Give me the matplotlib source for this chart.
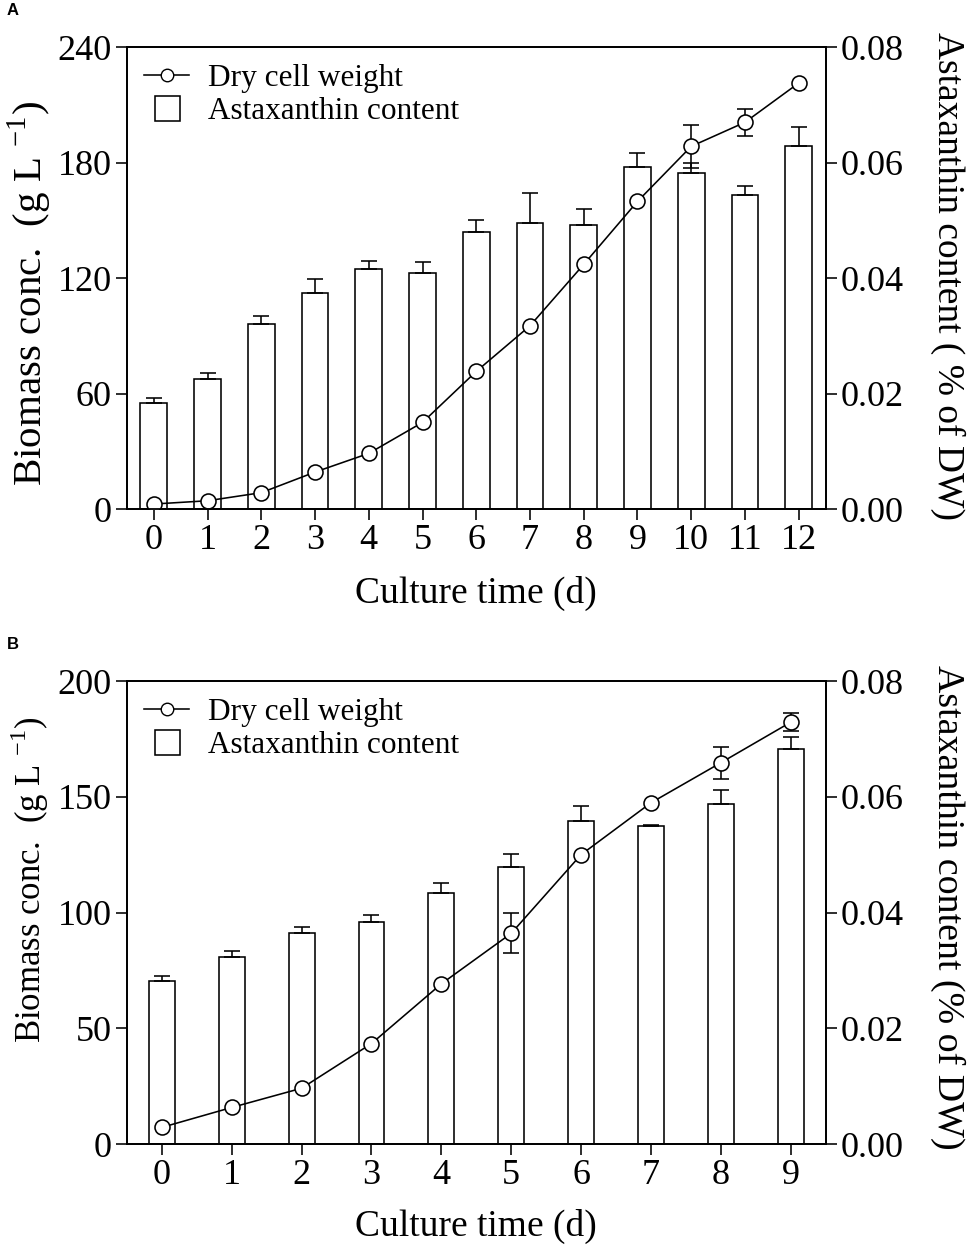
import numpy as np
import matplotlib
matplotlib.use("Agg")
import matplotlib.pyplot as plt
from matplotlib.lines import Line2D

plt.rcParams['font.family'] = ['Liberation Serif', 'DejaVu Serif']
plt.rcParams['mathtext.fontset'] = 'custom'
plt.rcParams['mathtext.rm'] = 'Liberation Serif'

# Panel A data
days_a = list(range(13))
dcw_a = [2.6, 4.3, 8.5, 19.2, 28.9, 45.0, 71.5, 95.2, 127.1, 159.8, 188.4, 200.9, 221.3]
dcw_err_a = [0, 0, 0, 0, 0, 0, 0, 0, 0, 0, 11.0, 7.0, 0]
asta_a = [0.0183, 0.0225, 0.0321, 0.0374, 0.0416, 0.0408, 0.0480, 0.0495, 0.0492,
          0.0593, 0.0582, 0.0543, 0.0628]
asta_err_a = [0.0009, 0.0010, 0.0013, 0.0025, 0.0013, 0.0020, 0.0020, 0.0053, 0.0028,
              0.0023, 0.0017, 0.0017, 0.0033]

# Panel B data
days_b = list(range(10))
dcw_b = [7.2, 15.8, 24.1, 43.4, 69.2, 91.0, 125.0, 147.4, 164.7, 182.2]
dcw_err_b = [0, 0, 0, 0, 0, 8.6, 0, 0, 6.9, 3.8]
asta_b = [0.0282, 0.0323, 0.0364, 0.0384, 0.0434, 0.0478, 0.0559, 0.0550, 0.0587, 0.0682]
asta_err_b = [0.0009, 0.0011, 0.0011, 0.0012, 0.0017, 0.0024, 0.0025, 0.0001, 0.0024, 0.0022]

TICK_FS = 26
LABEL_FS = 27
LEG_FS = 22.5
LW = 1.15
W, H = 969, 1251

fig = plt.figure(figsize=(W / 100, H / 100), dpi=100)


def px(x, y):
    return x / W, 1 - y / H


def panel(rect, days, dcw, dcw_err, asta, asta_err, ymax, yticks, bar_w, rlabel,
          letter, letter_y, xlab_y, left_lab, right_lab):
    ax = fig.add_axes(rect)
    ax2 = ax.twinx()
    ax2.set_zorder(1)
    ax.set_zorder(2)
    ax.patch.set_visible(False)

    ax2.bar(days, asta, width=bar_w, color='white', edgecolor='black', linewidth=LW)
    ax2.errorbar(days, asta, yerr=[np.zeros(len(asta)), asta_err], fmt='none',
                 ecolor='black', elinewidth=LW, capsize=5.5, capthick=LW)

    # only points that carry an error bar
    idx = [i for i, e in enumerate(dcw_err) if e > 0]
    ax.errorbar([days[i] for i in idx], [dcw[i] for i in idx],
                yerr=[dcw_err[i] for i in idx], fmt='none', ecolor='black',
                elinewidth=LW, capsize=5.5, capthick=LW)
    ax.plot(days, dcw, '-o', color='black', linewidth=LW, markersize=10.8,
            markerfacecolor='white', markeredgecolor='black', markeredgewidth=LW)

    ax.set_xlim(-0.5, len(days) - 0.5)
    ax.set_ylim(0, ymax)
    ax.set_yticks(yticks)
    ax2.set_ylim(0, 0.08)
    ax2.set_yticks([0.0, 0.02, 0.04, 0.06, 0.08])
    ax2.set_yticklabels(['0.00', '0.02', '0.04', '0.06', '0.08'])
    ax.set_xticks(days)

    for a in (ax, ax2):
        a.tick_params(direction='out', length=8, width=LW, labelsize=TICK_FS, pad=3)
        for s in a.spines.values():
            s.set_linewidth(1.3)

    fig.text(*px(476, xlab_y), 'Culture time (d)', fontsize=LABEL_FS,
             ha='center', va='center')
    ly, lfs = left_lab
    fig.text(*px(30, ly), 'Biomass conc.  (g L $^{\\mathregular{-1}}$)',
             fontsize=lfs, rotation=90, ha='center', va='center')
    ry, rfs = right_lab
    fig.text(*px(948, ry), rlabel, fontsize=rfs, rotation=270,
             ha='center', va='center')

    handles = [Line2D([], [], color='black', linewidth=LW, marker='o', markersize=9,
                      markerfacecolor='white', markeredgecolor='black'),
               Line2D([], [], linestyle='none', marker='s', markersize=18,
                      markerfacecolor='white', markeredgecolor='black',
                      markeredgewidth=LW)]
    ax.legend(handles, ['Dry cell weight', 'Astaxanthin content'], loc='upper left',
              frameon=False, fontsize=LEG_FS, handlelength=1.45, handletextpad=0.6,
              borderaxespad=0.15, labelspacing=0.12)

    fig.text(*px(7, letter_y), letter, fontsize=12, fontweight='bold',
             family='Liberation Sans', va='top', ha='left')
    return ax, ax2


panel([0.131, 0.5931, 0.721, 0.3693], days_a, dcw_a, dcw_err_a, asta_a, asta_err_a,
      240, [0, 60, 120, 180, 240], 0.5, 'Astaxanthin content ( % of DW)', 'A', 3,
      593, (293, 29.5), (276, 27))
panel([0.131, 0.0855, 0.721, 0.3701], days_b, dcw_b, dcw_err_b, asta_b, asta_err_b,
      200, [0, 50, 100, 150, 200], 0.37, 'Astaxanthin content (% of DW)', 'B', 637,
      1226, (880, 25), (907, 27.3))

fig.savefig('out.png', dpi=100)
